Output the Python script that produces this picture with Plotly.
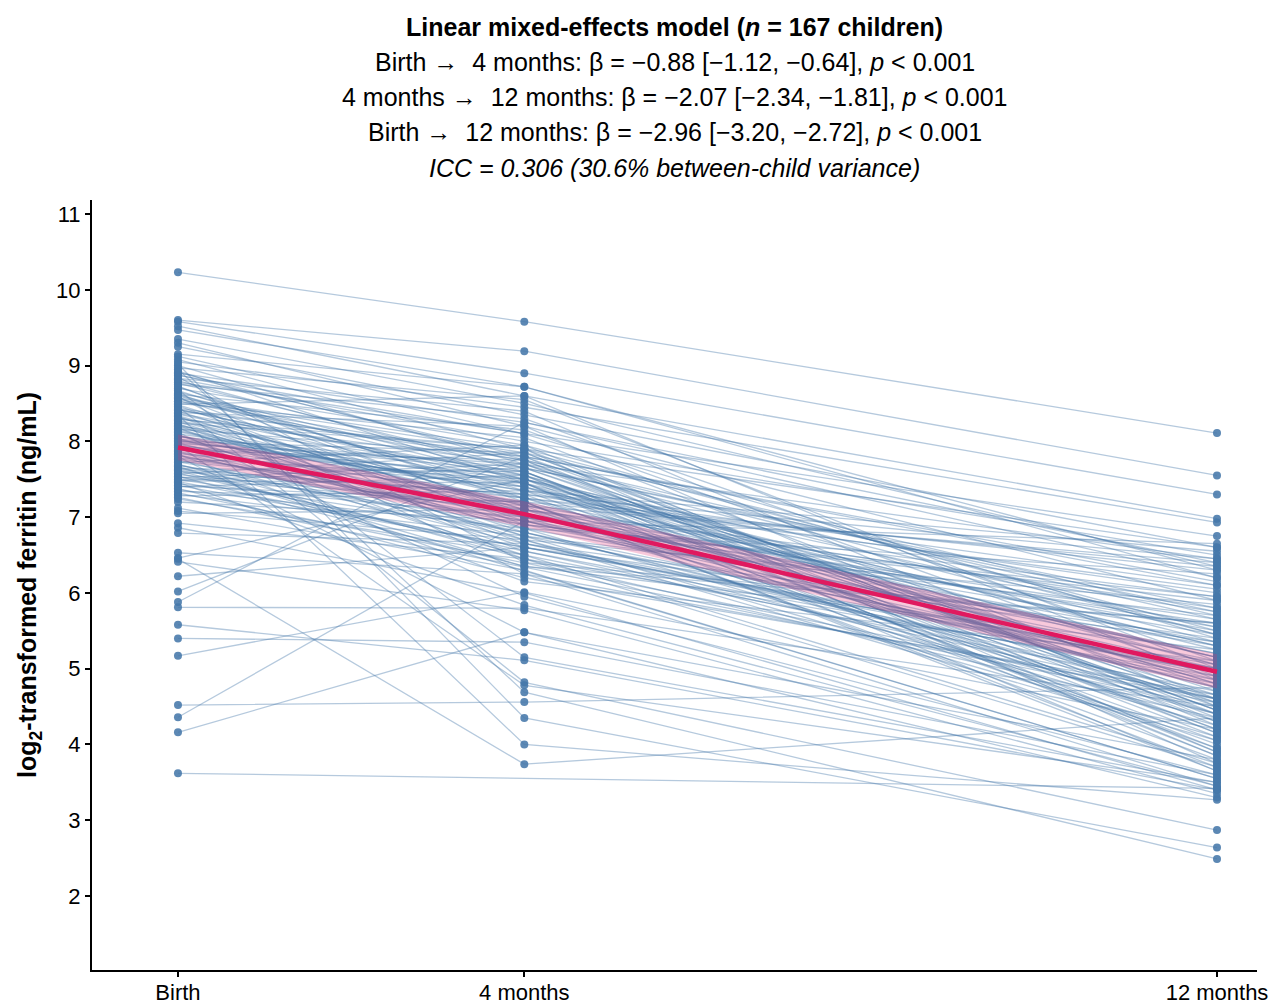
import plotly.graph_objects as go

# ---------------- data ----------------
timepoints = [0, 4, 12]
tick_labels = ["Birth", "4 months", "12 months"]

birth = [
    10.23, 9.60, 9.58, 9.52, 9.47, 9.30, 9.25, 9.12, 9.08, 9.05,
    9.00, 8.97, 8.93, 8.90, 8.88, 8.85, 8.82, 8.80, 8.78, 8.75,
    8.72, 8.70, 8.68, 8.65, 8.62, 8.60, 8.58, 8.55, 8.53, 8.50,
    8.48, 8.46, 8.44, 8.42, 8.40, 8.38, 8.36, 8.34, 8.32, 8.30,
    8.28, 8.26, 8.24, 8.22, 8.20, 8.18, 8.16, 8.14, 8.12, 8.10,
    8.08, 8.06, 8.04, 8.02, 8.00, 7.98, 7.96, 7.94, 7.92, 7.90,
    7.88, 7.86, 7.84, 7.82, 7.80, 7.78, 7.76, 7.74, 7.72, 7.70,
    7.68, 7.66, 7.64, 7.62, 7.60, 7.58, 7.56, 7.54, 7.52, 7.50,
    7.48, 7.46, 7.44, 7.42, 7.40, 7.38, 7.36, 7.34, 7.32, 7.30,
    7.28, 7.26, 7.24, 7.20, 7.12, 7.08, 7.05, 6.92, 6.86, 6.79,
    6.53, 6.46, 6.41, 6.22, 6.02, 5.88, 5.81, 5.58, 5.40, 5.17,
    4.52, 4.36, 4.16, 3.62, 9.02, 8.95, 8.35, 6.45, 7.95, 8.87,
    8.77, 8.67, 8.57, 8.47, 8.37, 8.27, 8.17, 8.07, 7.97, 7.87,
    7.77, 7.67, 7.57, 7.47, 8.63, 8.43, 8.23, 8.03, 7.83, 7.63,
    8.83, 8.53, 8.33, 8.13, 7.93, 7.73, 7.53, 8.73, 8.49, 8.29,
    8.09, 7.89, 7.69, 7.49, 9.15, 8.91, 8.61, 8.41, 8.21, 8.01,
    7.81, 7.61, 7.41, 9.35, 8.59, 7.99, 8.19,
]

month4 = [
    9.58, 9.19, 8.90, 8.60, 8.72, 8.20, 8.35, 8.10, 7.90, 8.45,
    7.70, 8.55, 7.45, 8.25, 7.80, 6.40, 8.00, 7.60, None, 8.30,
    7.20, 7.95, 5.15, 7.55, 8.15, 7.35, 6.90, 7.85, 7.65, 8.05,
    7.10, 4.82, 7.75, 7.50, 6.95, 8.20, 7.40, 7.05, None, 7.70,
    7.25, 6.80, 7.90, 7.15, 7.60, 6.60, 7.80, 7.30, 5.95, 7.45,
    7.00, 7.65, 6.75, 7.35, 7.85, 6.85, 7.20, 7.55, 6.50, 7.10,
    7.75, 6.70, 7.40, 6.95, 5.48, 7.50, 6.65, 7.25, 7.95, 6.45,
    7.05, None, 7.60, 6.90, 7.30, 6.55, 7.15, 6.35, 7.70, 6.80,
    7.45, 5.84, 7.00, 6.60, 7.55, 6.20, 6.85, 7.20, 6.40, 6.75,
    7.35, None, 6.50, 6.95, 6.30, 6.70, 7.10, 6.45, 6.00, 6.65,
    6.25, 7.50, 5.77, 6.60, 7.80, 8.25, 5.80, 5.11, 5.35, 6.01,
    4.56, 6.95, 5.48, None, 4.35, 4.69, 4.00, 3.74, 4.78, 8.10,
    7.65, 7.25, 7.90, 6.85, 7.55, 7.10, 6.55, 7.35, 7.70, 6.90,
    7.20, 6.35, 7.85, 6.60, 7.05, 7.45, 6.75, 7.60, 6.15, 7.30,
    8.40, 7.75, 6.65, 7.15, 7.45, 6.95, 7.10, 7.00, 8.60, 7.90,
    6.45, 7.25, 6.80, 7.65, 8.72, None, 7.50, 7.80, 6.70, 7.40,
    7.00, 6.50, 7.20, 8.50, 6.25, 7.50, None,
]

month12 = [
    8.11, 7.55, 7.30, 6.98, 6.30, 5.90, 6.60, 5.40, 4.40, 6.93,
    6.45, 5.00, 5.30, 6.20, 3.90, 5.60, 6.50, 4.20, 6.75, 5.10,
    6.35, 5.45, 3.50, 4.10, 4.90, 6.10, 5.20, 5.70, 5.80, 4.60,
    5.95, 2.87, 4.45, 5.25, 6.65, 4.30, 5.05, 5.55, 4.85, 4.75,
    5.15, 4.95, 3.75, 5.75, 3.85, 5.35, 4.55, 6.00, 3.60, 4.65,
    5.65, 4.50, 5.00, 4.05, 4.35, 6.25, 3.70, 4.80, 4.70, 5.50,
    4.15, 5.85, 4.40, 5.10, 3.30, 3.95, 5.40, 6.05, 4.25, 4.90,
    5.20, 3.55, 4.30, 5.90, 4.00, 4.85, 3.80, 5.60, 4.45, 4.60,
    4.20, 3.45, 5.45, 5.05, 3.90, 4.65, 5.30, 3.65, 4.55, 4.10,
    5.15, 4.50, 3.75, 4.75, 3.55, 4.40, 5.00, 4.35, 3.40, 4.80,
    4.60, 5.55, 3.35, 4.95, 6.15, 6.40, 4.50, 3.40, 3.60, 4.20,
    4.75, 4.90, 3.80, 3.42, 2.64, 2.49, 3.27, 4.35, 3.50, None,
    4.70, 6.30, 5.50, 4.25, 5.05, 5.80, 4.60, 6.55, 5.35, 5.95,
    3.95, 5.25, 4.45, 5.00, None, 3.65, 5.70, 4.15, 5.10, 6.45,
    4.50, 5.65, 4.95, 6.40, 3.85, 5.60, 4.30, 5.35, 4.85, 6.60,
    3.70, 4.55, 4.65, 5.75, 6.20, 5.45, 4.80, 6.10, 4.05, 5.30,
    4.40, None, 5.15, 6.35, 3.45, 4.60, 4.75,
]

# model-estimated means and 95% CI
fit_mean = [7.92, 7.04, 4.96]
fit_lo = [7.75, 6.87, 4.74]
fit_hi = [8.09, 7.21, 5.19]

# ---------------- build figure ----------------
line_x, line_y, pt_x, pt_y = [], [], [], []
for b, m4, m12 in zip(birth, month4, month12):
    for t, v in zip(timepoints, [b, m4, m12]):
        if v is not None:
            line_x.append(t)
            line_y.append(v)
            pt_x.append(t)
            pt_y.append(v)
    line_x.append(None)
    line_y.append(None)

fig = go.Figure()
fig.add_trace(go.Scatter(
    x=line_x, y=line_y, mode="lines",
    line=dict(color="rgba(70,120,170,0.40)", width=1.3),
    hoverinfo="skip", showlegend=False))
fig.add_trace(go.Scatter(
    x=pt_x, y=pt_y, mode="markers",
    marker=dict(color="rgba(70,120,170,0.88)", size=8, line=dict(width=0)),
    showlegend=False))
fig.add_trace(go.Scatter(
    x=timepoints + timepoints[::-1], y=fit_hi + fit_lo[::-1],
    fill="toself", fillcolor="rgba(228,40,110,0.25)",
    line=dict(width=0), mode="lines", hoverinfo="skip", showlegend=False))
fig.add_trace(go.Scatter(
    x=timepoints, y=fit_mean, mode="lines",
    line=dict(color="#E0195F", width=4.5), showlegend=False))

font_family = "Liberation Sans, Arial, sans-serif"
title_lines = [
    ("<b>Linear mixed-effects model (<i>n</i> = 167 children)</b>", 173),
    ("Birth →  4 months: β = −0.88 [−1.12, −0.64], <i>p</i> < 0.001", 138),
    ("4 months →  12 months: β = −2.07 [−2.34, −1.81], <i>p</i> < 0.001", 103),
    ("Birth →  12 months: β = −2.96 [−3.20, −2.72], <i>p</i> < 0.001", 68),
    ("<i>ICC = 0.306 (30.6% between-child variance)</i>", 32),
]
for txt, ys in title_lines:
    fig.add_annotation(text=txt, xref="paper", yref="paper", x=0.5, y=1,
                       xanchor="center", yanchor="middle", yshift=ys,
                       showarrow=False, font=dict(size=25, color="black", family=font_family))

fig.update_layout(
    width=1273, height=1003, autosize=False,
    margin=dict(l=92, r=16, t=200, b=33),
    plot_bgcolor="white", paper_bgcolor="white",
    font=dict(family=font_family, color="black"),
    xaxis=dict(range=[-0.993, 12.462], tickvals=timepoints, ticktext=tick_labels,
               automargin=False, ticklabelstandoff=-3,
               showgrid=False, zeroline=False, showline=True, linecolor="black", linewidth=2,
               ticks="outside", ticklen=5, tickwidth=2, tickcolor="black",
               tickfont=dict(size=22, color="black")),
    yaxis=dict(range=[1.024, 11.185], tickvals=list(range(2, 12)),
               automargin=False,
               showgrid=False, zeroline=False, showline=True, linecolor="black", linewidth=2,
               ticks="outside", ticklen=5, tickwidth=2, tickcolor="black",
               tickfont=dict(size=22, color="black"),
               title=dict(text="<b>log<sub>2</sub>-transformed ferritin (ng/mL)</b>",
                          font=dict(size=25, color="black"), standoff=12)),
)

fig.write_html("out.html",
               config={"responsive": False, "displayModeBar": False},
               post_script="document.body.style.margin='0';")
